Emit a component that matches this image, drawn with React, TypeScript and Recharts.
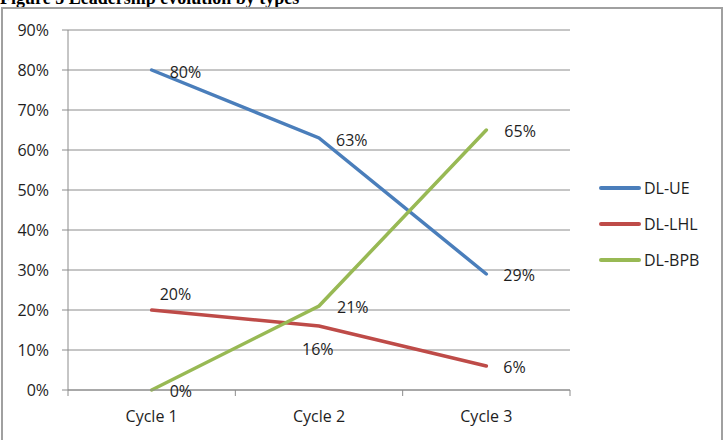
import React from "react";
import { CartesianGrid, LabelList, Line, LineChart, XAxis, YAxis } from "recharts";

const categories = ["Cycle 1", "Cycle 2", "Cycle 3"];
const dlUE = [80, 63, 29];
const dlLHL = [20, 16, 6];
const dlBPB = [0, 21, 65];
const yTicks = [0, 10, 20, 30, 40, 50, 60, 70, 80, 90];

const FONT = "'Open Sans', sans-serif";
const GRID = "#8c8c8c";

const CHART_W = 725;
const CHART_H = 440;
const MARGIN = { top: 30, right: 155, bottom: 0, left: 8 };
const Y_AXIS_W = 60;
const PLOT_W = CHART_W - MARGIN.left - MARGIN.right - Y_AXIS_W;
// half of one category band; points sit in the middle of their band
const HALF_BAND = PLOT_W / categories.length / 2;

const data = categories.map((cycle, i) => ({
  cycle,
  ue: dlUE[i],
  lhl: dlLHL[i],
  bpb: dlBPB[i],
}));

// label offsets (dx, dy) from each point, per series
const series = [
  { key: "ue", name: "DL-UE", color: "#4a7ebb", offsets: [[18, 2], [17, 2], [17, 1]] },
  { key: "lhl", name: "DL-LHL", color: "#be4b48", offsets: [[8, -16], [-17, 23], [17, 1]] },
  { key: "bpb", name: "DL-BPB", color: "#98b954", offsets: [[18, 1], [18, 1], [18, 1]] },
];

const makeLabel = (offsets: number[][]) => (props: any) => {
  const { x, y, value, index } = props;
  const [dx, dy] = offsets[index] ?? [17, 0];
  return (
    <text
      x={x + dx}
      y={y + dy}
      dy="0.355em"
      textAnchor="start"
      fontFamily={FONT}
      fontSize={16}
      fill="#1e1e1e"
    >
      {`${value}%`}
    </text>
  );
};

// category label plus small downward tick marks at the band edges
const CycleTick = (props: any) => {
  const { x, y, payload, index } = props;
  const last = index === categories.length - 1;
  return (
    <g>
      <line x1={x - HALF_BAND} x2={x - HALF_BAND} y1={y} y2={y + 6} stroke={GRID} />
      {last && <line x1={x + HALF_BAND} x2={x + HALF_BAND} y1={y} y2={y + 6} stroke={GRID} />}
      <text
        x={x}
        y={y + 21}
        dy="0.71em"
        textAnchor="middle"
        fontFamily={FONT}
        fontSize={16}
        fill="#1e1e1e"
      >
        {payload.value}
      </text>
    </g>
  );
};

export default function App() {
  return (
    <div
      style={{
        position: "absolute",
        left: 0,
        top: 0,
        width: CHART_W,
        height: CHART_H,
        overflow: "hidden",
        background: "#fff",
      }}
    >
      <div
        style={{
          position: "absolute",
          left: 0,
          top: -11,
          fontFamily: "'Liberation Serif', serif",
          fontWeight: "bold",
          fontSize: 18,
          lineHeight: "18px",
          whiteSpace: "nowrap",
          color: "#000",
        }}
      >
        Figure 5 Leadership evolution by types
      </div>
      <div
        style={{
          position: "absolute",
          left: 1,
          top: 7,
          width: 722,
          height: 440,
          boxSizing: "border-box",
          border: "2px solid #a0a0a0",
        }}
      />
      <div style={{ position: "absolute", left: 0, top: 0 }}>
        <LineChart width={CHART_W} height={CHART_H} data={data} margin={MARGIN}>
          <CartesianGrid horizontal vertical={false} stroke={GRID} />
          <XAxis
            dataKey="cycle"
            height={50}
            axisLine={{ stroke: GRID }}
            tickLine={false}
            tickSize={0}
            tickMargin={0}
            interval={0}
            padding={{ left: HALF_BAND, right: HALF_BAND }}
            tick={<CycleTick />}
          />
          <YAxis
            domain={[0, 90]}
            ticks={yTicks}
            width={Y_AXIS_W}
            tickSize={6}
            tickMargin={13}
            tickFormatter={(v: number) => `${v}%`}
            axisLine={{ stroke: GRID }}
            tickLine={{ stroke: GRID }}
            tick={{ fontFamily: FONT, fontSize: 16, fill: "#1e1e1e" }}
          />
          {series.map((s) => (
            <Line
              key={s.key}
              type="linear"
              dataKey={s.key}
              name={s.name}
              stroke={s.color}
              strokeWidth={3.5}
              strokeLinecap="round"
              dot={false}
              activeDot={false}
              isAnimationActive={false}
            >
              <LabelList dataKey={s.key} content={makeLabel(s.offsets)} />
            </Line>
          ))}
        </LineChart>
      </div>
      {series.map((s, i) => (
        <div
          key={s.key}
          style={{
            position: "absolute",
            left: 599,
            top: 176 + i * 35.8,
            height: 24,
            display: "flex",
            alignItems: "center",
            fontFamily: FONT,
            fontSize: 16,
            color: "#1e1e1e",
          }}
        >
          <span
            style={{
              display: "inline-block",
              width: 42,
              height: 4,
              borderRadius: 2,
              background: s.color,
              marginRight: 3,
            }}
          />
          {s.name}
        </div>
      ))}
    </div>
  );
}
